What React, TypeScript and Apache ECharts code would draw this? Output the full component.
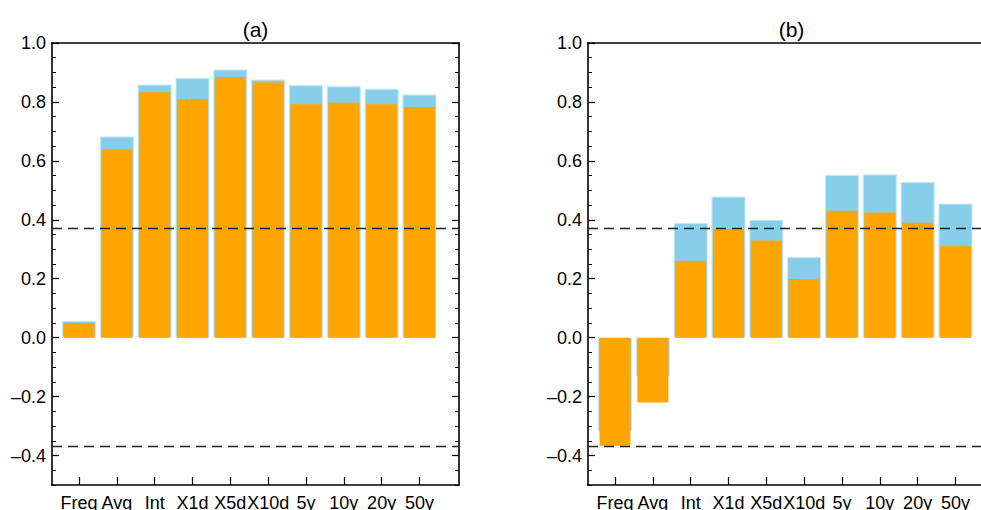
import React, { useEffect, useRef } from "react";
import * as echarts from "echarts";

const CATS = ["Freq", "Avg", "Int", "X1d", "X5d", "X10d", "5y", "10y", "20y", "50y"];
const POSITIONS = [1, 2, 3, 4, 5, 6, 7, 8, 9, 10];
const Y_TICKS = [-0.4, -0.2, 0, 0.2, 0.4, 0.6, 0.8, 1.0];
const A_BLUE = [0.057, 0.683, 0.859, 0.881, 0.91, 0.876, 0.857, 0.853, 0.845, 0.825];
const A_ORANGE = [0.05, 0.639, 0.833, 0.81, 0.885, 0.867, 0.792, 0.797, 0.792, 0.783];
const B_BLUE = [-0.319, -0.131, 0.389, 0.479, 0.4, 0.274, 0.552, 0.554, 0.528, 0.455];
const B_ORANGE = [-0.367, -0.22, 0.261, 0.369, 0.33, 0.199, 0.431, 0.425, 0.39, 0.31];
const THRESHOLDS = [0.3679, -0.3679];
const TITLES = ["(a)", "(b)"];

const FONT = "Liberation Sans, Arial, Helvetica, sans-serif";
const XMIN = 0.286;
const XMAX = 11.045;
const YMIN = -0.5;
const YMAX = 1.0;

const fmtY = (v: number) => {
  if (Math.abs(v) < 1e-9) return "0.0";
  return v < 0 ? "\u2013" + Math.abs(v).toFixed(1) : v.toFixed(1);
};

export default function App() {
  const ref = useRef<HTMLDivElement>(null);
  useEffect(() => {
    if (!ref.current) return;
    const chart = echarts.init(ref.current, undefined, { renderer: "svg" });
    const gridLefts = [52, 588];
    const grids: any[] = [];
    const xAxes: any[] = [];
    const yAxes: any[] = [];
    const series: any[] = [];
    const graphics: any[] = [];
    const panels = [
      { blue: A_BLUE, orange: A_ORANGE },
      { blue: B_BLUE, orange: B_ORANGE },
    ];
    panels.forEach((p, i) => {
      grids.push({
        left: gridLefts[i],
        top: 43,
        width: 407,
        height: 442,
        containLabel: false,
        outerBoundsMode: "none",
      });
      const xBase = xAxes.length;
      xAxes.push({
        type: "value",
        gridIndex: i,
        position: "bottom",
        min: XMIN,
        max: XMAX,
        axisLine: { show: true, onZero: false, lineStyle: { color: "#000", width: 1.6 } },
        axisTick: {
          show: true,
          inside: true,
          length: 8,
          customValues: POSITIONS,
          lineStyle: { color: "#000", width: 1.2 },
        },
        axisLabel: {
          show: true,
          customValues: POSITIONS,
          formatter: (v: number) => CATS[Math.round(v) - 1] ?? "",
          color: "#000",
          fontSize: 18,
          fontFamily: FONT,
          margin: 9,
          hideOverlap: false,
        },
        splitLine: { show: false },
      });
      xAxes.push({
        type: "value",
        gridIndex: i,
        position: "top",
        min: XMIN,
        max: XMAX,
        axisLine: { show: true, onZero: false, lineStyle: { color: "#000", width: 1.6 } },
        axisTick: { show: false },
        axisLabel: { show: false },
        splitLine: { show: false },
      });
      xAxes.push({
        type: "value",
        gridIndex: i,
        position: "bottom",
        min: XMIN,
        max: XMAX,
        show: false,
        splitLine: { show: false },
      });
      const yBase = yAxes.length;
      const yCommon = { type: "value", gridIndex: i, min: YMIN, max: YMAX, splitLine: { show: false } };
      yAxes.push({
        ...yCommon,
        position: "left",
        axisLine: { show: true, onZero: false, lineStyle: { color: "#000", width: 1.6 } },
        axisTick: {
          show: true,
          inside: true,
          length: 7,
          customValues: Y_TICKS,
          lineStyle: { color: "#000", width: 1.2 },
        },
        axisLabel: {
          show: true,
          customValues: Y_TICKS,
          formatter: fmtY,
          color: "#000",
          fontSize: 18,
          fontFamily: FONT,
          margin: 6,
        },
      });
      yAxes.push({
        ...yCommon,
        position: "left",
        interval: 0.05,
        axisLine: { show: false },
        axisTick: { show: true, inside: true, length: 4, lineStyle: { color: "#000", width: 1 } },
        axisLabel: { show: false },
      });
      yAxes.push({
        ...yCommon,
        position: "right",
        axisLine: { show: true, onZero: false, lineStyle: { color: "#000", width: 1.6 } },
        axisTick: {
          show: true,
          inside: true,
          length: 7,
          customValues: Y_TICKS,
          lineStyle: { color: "#000", width: 1.2 },
        },
        axisLabel: { show: false, customValues: Y_TICKS },
      });
      yAxes.push({
        ...yCommon,
        position: "right",
        interval: 0.05,
        axisLine: { show: false },
        axisTick: { show: true, inside: true, length: 4, lineStyle: { color: "#000", width: 1 } },
        axisLabel: { show: false },
      });
      series.push({
        type: "bar",
        name: "blue" + i,
        xAxisIndex: xBase,
        yAxisIndex: yBase,
        barWidth: 34,
        data: POSITIONS.map((x, k) => [x, p.blue[k]]),
        itemStyle: { color: "#87CEEB", borderColor: "#c4e8f6", borderWidth: 1 },
        z: 2,
        markLine: {
          silent: true,
          symbol: ["none", "none"],
          label: { show: false },
          lineStyle: { type: [10, 6], color: "#222", width: 1.3 },
          data: THRESHOLDS.map((t) => ({ yAxis: t })),
          z: 5,
        },
      });
      series.push({
        type: "bar",
        name: "orange" + i,
        xAxisIndex: xBase + 2,
        yAxisIndex: yBase,
        barWidth: 31,
        data: POSITIONS.map((x, k) => [x, p.orange[k]]),
        itemStyle: { color: "#FFA500" },
        z: 3,
      });
      graphics.push({
        type: "text",
        x: gridLefts[i] + 203.5,
        y: 29,
        style: {
          text: TITLES[i],
          textAlign: "center",
          textVerticalAlign: "middle",
          fontSize: 21,
          fontFamily: FONT,
          fill: "#000",
        },
      });
    });
    chart.setOption({
      animation: false,
      backgroundColor: "#fff",
      textStyle: { fontFamily: FONT },
      grid: grids,
      xAxis: xAxes,
      yAxis: yAxes,
      series,
      graphic: graphics,
    });
    return () => chart.dispose();
  }, []);
  return (
    <div
      ref={ref}
      style={{ position: "fixed", left: 0, top: 0, width: 981, height: 510, background: "#fff" }}
    />
  );
}
